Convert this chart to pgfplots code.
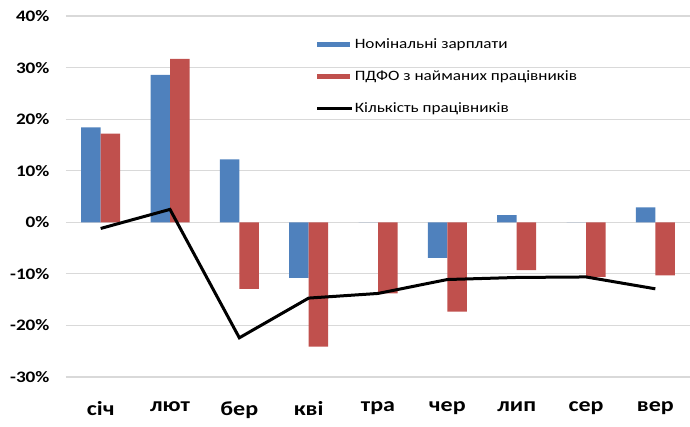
\documentclass[border=0pt]{standalone}
\usepackage{fontspec}
\setmainfont{Carlito}[FakeStretch=1.2]
\usepackage{pgfplots}
\pgfplotsset{compat=1.18}
\definecolor{xblue}{HTML}{4F81BD}
\definecolor{xred}{HTML}{C0504D}
\definecolor{xgrid}{HTML}{D9D9D9}
\begin{document}
\begin{tikzpicture}
\path[use as bounding box] (-66pt,-50pt) rectangle (624pt,377pt);
\begin{axis}[
  anchor=south west, at={(0pt,0pt)},
  scale only axis, width=624pt, height=361pt,
  xmin=-0.5, xmax=8.5, ymin=-30, ymax=40,
  axis line style={draw=none},
  tick style={draw=none},
  ymajorgrids, grid style={xgrid, line width=1.2pt},
  ytick={-30,-20,-10,0,10,20,30,40},
  yticklabels={-30\%,-20\%,-10\%,0\%,10\%,20\%,30\%,40\%},
  yticklabel style={font=\fontsize{16}{18}\selectfont\bfseries, xshift=-13pt},
  xtick={0,...,8},
  xticklabels={січ,лют,бер,кві,тра,чер,лип,сер,вер},
  xticklabel style={font=\fontsize{20}{22}\selectfont\bfseries, yshift=-21pt},
  legend cell align=left,
  legend style={at={(0.40,0.948)}, anchor=north west, draw=none, fill=none,
    font=\fontsize{14.3}{16}\selectfont, row sep=16.5pt, inner xsep=0pt,
    nodes={inner xsep=1pt}},
]
\addplot[ybar, bar width=19.5pt, bar shift=-9.75pt, fill=xblue, draw=none,
  legend image code/.code={\fill[xblue] (0pt,-2.5pt) rectangle (33pt,2.5pt);}]
  coordinates {(0,18.4) (1,28.6) (2,12.2) (3,-10.8) (4,0) (5,-6.9) (6,1.4) (7,0) (8,2.9)};
\addlegendentry{Номінальні зарплати}
\addplot[ybar, bar width=19.5pt, bar shift=9.75pt, fill=xred, draw=none,
  legend image code/.code={\fill[xred] (0pt,-2.5pt) rectangle (33pt,2.5pt);}]
  coordinates {(0,17.2) (1,31.7) (2,-12.9) (3,-24.1) (4,-13.8) (5,-17.3) (6,-9.3) (7,-10.6) (8,-10.3)};
\addlegendentry{ПДФО з найманих працівників}
\addplot[sharp plot, black, line width=3pt, mark=none,
  legend image code/.code={\draw[black, line width=3pt] (0pt,0pt) -- (35pt,0pt);}]
  coordinates {(0,-1.2) (1,2.5) (2,-22.4) (3,-14.7) (4,-13.8) (5,-11.1) (6,-10.7) (7,-10.6) (8,-12.9)};
\addlegendentry{Кількість працівників}
\end{axis}
\end{tikzpicture}
\end{document}
